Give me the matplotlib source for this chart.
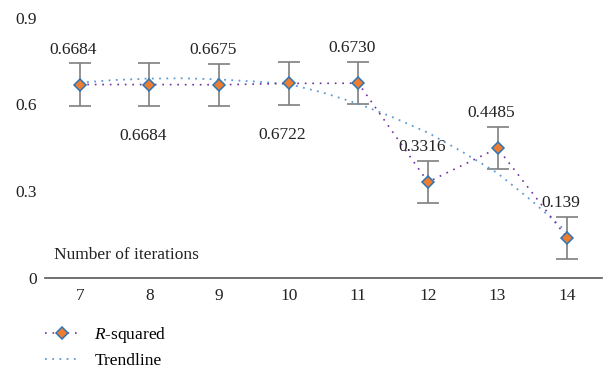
import numpy as np
import matplotlib
matplotlib.use('Agg')
import matplotlib.pyplot as plt
from matplotlib.lines import Line2D

plt.rcParams['font.family'] = ['Liberation Serif', 'DejaVu Serif']
plt.rcParams['mathtext.fontset'] = 'custom'
plt.rcParams['mathtext.it'] = 'Liberation Serif:italic'
plt.rcParams['mathtext.rm'] = 'Liberation Serif'

# 数据
iterations = [7, 8, 9, 10, 11, 12, 13, 14]
r_squared = [0.6684, 0.6684, 0.6675, 0.6722, 0.6730, 0.3316, 0.4485, 0.139]
labels = ['0.6684', '0.6684', '0.6675', '0.6722', '0.6730', '0.3316', '0.4485', '0.139']
err = [0.073] * 8
# 趋势线
trend_x = [7, 7.5, 8, 8.5, 9, 9.5, 10, 10.5, 11, 11.5, 12, 12.5, 13, 13.5, 14]
trend_y = [0.675, 0.684, 0.689, 0.690, 0.686, 0.679, 0.670, 0.640, 0.602, 0.555, 0.502, 0.435, 0.362, 0.265, 0.158]
label_pos = ['up', 'down', 'up', 'down', 'up', 'up', 'up', 'up']

fig = plt.figure(figsize=(6.03, 3.68), dpi=100)
ax = fig.add_axes([45 / 603, 90 / 368, 557 / 603, 260.5 / 368])

ax.errorbar(iterations, r_squared, yerr=err, fmt='none', ecolor='#7f7f7f',
            elinewidth=1.2, capsize=8, capthick=1.2, zorder=2)
ax.plot(trend_x, trend_y, color='#5b9bd5', linewidth=1.3,
        linestyle=(0, (1, 3)), zorder=3)
ax.plot(iterations, r_squared, color='#7030a0', linewidth=1.2,
        linestyle=(0, (1, 3.5)), marker='D', markersize=6,
        markerfacecolor='#ed7d31', markeredgecolor='#2e75b6',
        markeredgewidth=1.1, zorder=4)

for x, y, t, p in zip(iterations, r_squared, labels, label_pos):
    dy = 25 if p == 'up' else -37
    ax.annotate(t, (x, y), xytext=(-4.5, dy), textcoords='offset points',
                ha='center', va='center', fontsize=12.5, color='#222222')

ax.text(6.63, 0.08, 'Number of iterations', fontsize=12.5, color='#222222',
        va='center', ha='left')

ax.set_xlim(6.5, 14.5)
ax.set_ylim(0, 0.9)
ax.set_yticks([0, 0.3, 0.6, 0.9])
ax.set_yticklabels(['0', '0.3', '0.6', '0.9'])
ax.set_xticks(iterations)
ax.tick_params(axis='both', length=0, labelsize=12.5, colors='#222222')
ax.tick_params(axis='y', pad=6)
ax.tick_params(axis='x', pad=7)
for s in ['top', 'right', 'left']:
    ax.spines[s].set_visible(False)
ax.spines['bottom'].set_color('#595959')
ax.spines['bottom'].set_linewidth(1.2)

handles = [
    Line2D([], [], color='#7030a0', linewidth=1.2, linestyle=(0, (1, 3.5)),
           marker='D', markersize=6, markerfacecolor='#ed7d31',
           markeredgecolor='#2e75b6', markeredgewidth=1.1),
    Line2D([], [], color='#5b9bd5', linewidth=1.3, linestyle=(0, (1, 3))),
]
fig.legend(handles, ['$R$-squared', 'Trendline'], loc='upper left',
           bbox_to_anchor=(45 / 603, 1 - 325 / 368), frameon=False,
           fontsize=12.5, handlelength=2.0, handletextpad=0.85,
           labelspacing=0.45, borderpad=0, borderaxespad=0, numpoints=1)

fig.savefig('out.png', dpi=100)
